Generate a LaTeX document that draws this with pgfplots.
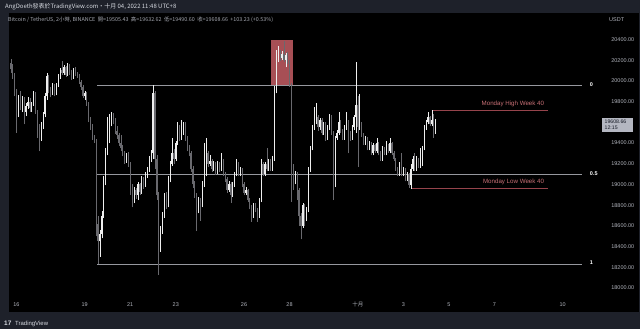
\documentclass[border=0pt]{standalone}
\usepackage{fontspec}
\setmainfont{Liberation Sans}
\newfontfamily\cjk{Noto Sans CJK TC}
\usepackage{pgfplots}
\usepackage{pgfplotstable}
\pgfplotsset{compat=1.18}

\definecolor{framecol}{RGB}{30,33,42}
\definecolor{txtgray}{RGB}{178,181,190}
\definecolor{hdrgray}{RGB}{165,168,177}
\definecolor{hdrwhite}{RGB}{215,218,225}
\definecolor{candleup}{RGB}{238,238,238}
\definecolor{candledn}{RGB}{105,105,110}
\definecolor{fibgray}{RGB}{150,152,158}
\definecolor{boxred}{RGB}{186,88,95}
\definecolor{mondayred}{RGB}{150,68,76}
\definecolor{mondaytxt}{RGB}{200,112,118}
\definecolor{lastbox}{RGB}{180,183,193}
\definecolor{lasttxt}{RGB}{19,23,34}

% BTCUSDT 2h candles, index 4 = 16 Sep 00:00 (UTC+8), 12 candles per day
\pgfplotstableread{
i O H L C
1 20170 20210 20080 20110
2 20110 20160 20020 20050
3 20050 20080 19850 19880
4 19880 19920 19500 19700
5 19700 19860 19650 19800
6 19800 19900 19720 19760
7 19760 19850 19700 19820
8 19820 19840 19580 19700
9 19700 19790 19660 19760
10 19760 19840 19730 19800
11 19800 19830 19700 19740
12 19740 19800 19700 19780
13 19780 19900 19760 19880
14 19880 19890 19680 19700
15 19700 19720 19450 19550
16 19550 19580 19320 19450
17 19450 19600 19420 19580
18 19580 19700 19540 19680
19 19680 19880 19650 19850
20 19850 20080 19820 20050
21 20050 20060 19880 19900
22 19900 19940 19840 19880
23 19880 19980 19860 19950
24 19950 19970 19850 19880
25 19880 19980 19860 19960
26 19960 20070 19940 20050
27 20050 20120 20020 20100
28 20100 20190 20060 20080
29 20080 20150 20060 20130
30 20130 20140 20040 20060
31 20060 20170 20050 20150
32 20150 20160 20060 20080
33 20080 20100 20010 20030
34 20030 20120 20020 20100
35 20100 20130 20050 20070
36 20070 20090 20030 20060
37 20060 20070 19970 19990
38 19990 20010 19910 19940
39 19940 19960 19830 19850
40 19850 19900 19820 19880
41 19880 19890 19760 19780
42 19780 19800 19600 19620
43 19620 19650 19530 19560
44 19560 19580 19430 19450
45 19450 19480 19400 19420
46 19420 19440 18500 18620
47 18620 18700 18232 18450
48 18450 18560 18300 18520
49 18520 18740 18480 18700
50 18700 19080 18680 19030
51 19030 19350 18990 19300
52 19300 19650 19280 19500
53 19500 19680 19400 19600
54 19600 19700 19560 19650
55 19650 19690 19580 19620
56 19620 19640 19490 19520
57 19520 19560 19440 19480
58 19480 19500 19370 19400
59 19400 19480 19320 19350
60 19350 19380 19270 19300
61 19300 19320 19200 19230
62 19230 19300 19210 19280
63 19280 19310 19170 19200
64 19200 19220 18900 18950
65 18950 19000 18780 18850
66 18850 18980 18820 18950
67 18950 18970 18860 18900
68 18900 19020 18850 19000
69 19000 19010 18900 18930
70 18930 19080 18910 19050
71 19050 19070 18960 19000
72 19000 19120 18980 19100
73 19100 19170 19060 19150
74 19150 19270 19120 19250
75 19250 19330 19220 19300
76 19300 19956 19250 19880
77 19880 19900 19150 19250
78 19250 19280 18850 18900
79 18900 18930 18125 18450
80 18450 18600 18350 18550
81 18550 18730 18520 18700
82 18700 18920 18680 18900
83 18900 18930 18760 18800
84 18800 19080 18780 19050
85 19050 19230 19020 19200
86 19200 19450 19180 19300
87 19300 19340 19200 19250
88 19250 19420 19230 19400
89 19400 19600 19380 19550
90 19550 19570 19420 19450
91 19450 19620 19430 19500
92 19500 19600 19480 19580
93 19580 19600 19420 19450
94 19450 19470 19320 19350
95 19350 19380 19270 19300
96 19300 19320 19120 19150
97 19150 19180 18970 19000
98 19000 19030 18870 18900
99 18900 18920 18550 18750
100 18750 18880 18720 18850
101 18850 18870 18650 18800
102 18800 19030 18780 19000
103 19000 19400 18980 19100
104 19100 19450 19080 19300
105 19300 19320 19170 19200
106 19200 19280 19180 19230
107 19230 19250 19120 19150
108 19150 19230 19130 19200
109 19200 19220 19090 19120
110 19120 19230 19100 19200
111 19200 19220 19120 19150
112 19150 19300 19130 19230
113 19230 19250 19080 19100
114 19100 19120 19020 19050
115 19050 19070 18920 18950
116 18950 19030 18930 19000
117 19000 19020 18820 18900
118 18900 19020 18880 19000
119 19000 19120 18980 19100
120 19100 19250 19080 19200
121 19200 19220 19080 19100
122 19100 19170 19080 19150
123 19150 19160 18980 19000
124 19000 19020 18900 18920
125 18920 18980 18900 18950
126 18950 18960 18830 18850
127 18850 18870 18760 18780
128 18780 18800 18640 18700
129 18700 18820 18680 18800
130 18800 18820 18730 18750
131 18750 18770 18640 18700
132 18700 18870 18680 18850
133 18850 19250 18830 19200
134 19200 19220 19080 19100
135 19100 19220 19080 19200
136 19200 19350 19130 19150
137 19150 19250 19130 19230
138 19230 19250 19130 19150
139 19150 19270 19130 19250
140 19250 19950 19230 19900
141 19900 20300 19880 20200
142 20200 20340 20180 20280
143 20280 20300 20190 20220
144 20220 20290 20200 20260
145 20260 20385 20180 20200
146 20200 20270 20130 20250
147 20250 20280 20160 20180
148 20180 20200 19940 19960
149 19960 19980 18830 19150
150 19150 19200 18950 19050
151 19050 19130 19000 19100
152 19100 19120 18850 18950
153 18950 18970 18600 18700
154 18700 18720 18471 18600
155 18600 18820 18580 18800
156 18800 18810 18600 18700
157 18700 18780 18650 18750
158 18750 19170 18730 19150
159 19150 19370 19120 19350
160 19350 19570 19330 19550
161 19550 19750 19530 19600
162 19600 19790 19580 19650
163 19650 19670 19520 19550
164 19550 19640 19530 19620
165 19620 19640 19480 19500
166 19500 19600 19480 19580
167 19580 19600 19420 19450
168 19450 19570 19430 19550
169 19550 19680 19530 19650
170 19650 19670 19480 19500
171 19500 19520 18850 19000
172 19000 19470 18980 19450
173 19450 19530 19430 19500
174 19500 19700 19480 19600
175 19600 19620 19500 19520
176 19520 19540 19430 19450
177 19450 19570 19430 19550
178 19550 19700 19530 19600
179 19600 19620 19300 19500
180 19500 19520 19420 19450
181 19450 19570 19430 19550
182 19550 19670 19530 19650
183 19650 20185 19500 19770
184 19770 19850 19170 19550
185 19550 19870 19530 19580
186 19580 19600 19460 19480
187 19480 19500 19380 19400
188 19400 19470 19380 19450
189 19450 19460 19330 19350
190 19350 19420 19330 19400
191 19400 19410 19280 19300
192 19300 19400 19280 19380
193 19380 19390 19300 19320
194 19320 19450 19300 19400
195 19400 19410 19280 19300
196 19300 19320 19230 19250
197 19250 19370 19230 19350
198 19350 19360 19280 19300
199 19300 19420 19280 19380
200 19380 19390 19300 19320
201 19320 19450 19300 19400
202 19400 19410 19280 19300
203 19300 19320 19230 19250
204 19250 19260 19130 19150
205 19150 19170 19080 19100
206 19100 19220 19080 19200
207 19200 19300 19080 19100
208 19100 19170 19080 19150
209 19150 19160 19030 19050
210 19050 19120 19030 19100
211 19100 19110 18970 18990
212 18990 19200 18960 19150
213 19150 19270 19130 19250
214 19250 19300 19130 19150
215 19150 19270 19130 19250
216 19250 19260 19160 19180
217 19180 19350 19160 19200
218 19200 19370 19180 19350
219 19350 19570 19330 19550
220 19550 19620 19530 19600
221 19600 19700 19580 19650
222 19650 19660 19560 19580
223 19580 19718 19560 19620
224 19620 19680 19450 19505.43
225 19505.43 19632.62 19490.60 19608.66
}\candles
% direction of each candle: close minus open
\pgfplotstablecreatecol[create col/expr={\thisrow{C}-\thisrow{O}}]{D}{\candles}

\begin{document}
\begin{tikzpicture}[x=1bp,y=1bp]
\useasboundingbox (0,0) rectangle (640,329);
% window frame
\fill[framecol] (0,0) rectangle (640,329);

\begin{axis}[
  at={(5,16.3)}, anchor=south west,
  scale only axis, width=630bp, height=299.2bp,
  xmin=0.306, xmax=332.58, ymin=17767.9, ymax=20655.8,
  axis background/.style={fill=black},
  axis line style={draw=none},
  major tick length=0pt,
  scaled x ticks=false, scaled y ticks=false,
  xtick={4,40,64,88,124,148,184,208,232,256,292},
  xticklabels={16,19,21,23,26,28,{\cjk 十月},3,5,7,10},
  xticklabel style={anchor=center, yshift=7.7bp},
  ytick={18000,18200,18400,18600,18800,19000,19200,19400,19800,20000,20200,20400},
  yticklabels={18000.00,18200.00,18400.00,18600.00,18800.00,19000.00,19200.00,19400.00,19800.00,20000.00,20200.00,20400.00},
  yticklabel pos=right,
  yticklabel style={anchor=center, xshift=-16.7bp},
  ticklabel style={font=\fontsize{5.5}{6}\selectfont, text=txtgray},
  clip=false,
]
% highlighted peak zone
\addplot[fill=boxred, draw=none, fill opacity=0.9] coordinates {(138.3,19956) (149.7,19956) (149.7,20395) (138.3,20395)} -- cycle;

% fibonacci retracement levels 0 / 0.5 / 1
\addplot[fibgray, line width=0.8bp] coordinates {(46.7,19956) (302,19956)};
\addplot[fibgray, line width=0.8bp] coordinates {(46.7,19094) (302,19094)};
\addplot[fibgray, line width=0.8bp] coordinates {(46.7,18232) (302,18232)};

% Monday range of week 40
\addplot[mondayred, line width=0.8bp] coordinates {(223,19718) (284.1,19718)};
\addplot[mondayred, line width=0.8bp] coordinates {(212,18960) (284.1,18960)};

% falling candles: wick, then body
\addplot[candledn, line width=0.45bp, quiver={u=0, v=\thisrow{H}-\thisrow{L}},
  restrict expr to domain={\thisrow{D}}{-100000:-0.001}]
  table[x=i, y=L] {\candles};
\addplot[candledn, line width=1.05bp, quiver={u=0, v=\thisrow{C}-\thisrow{O}},
  restrict expr to domain={\thisrow{D}}{-100000:-0.001}]
  table[x=i, y=O] {\candles};
% rising candles: wick, then body
\addplot[candleup, line width=0.45bp, quiver={u=0, v=\thisrow{H}-\thisrow{L}},
  restrict expr to domain={\thisrow{D}}{0:100000}]
  table[x=i, y=L] {\candles};
\addplot[candleup, line width=1.05bp, quiver={u=0, v=\thisrow{C}-\thisrow{O}},
  restrict expr to domain={\thisrow{D}}{0:100000}]
  table[x=i, y=O] {\candles};

% level captions
\node[anchor=west, font=\fontsize{5.5}{6}\selectfont\bfseries, text=white] at (axis cs:304.6,19966) {0};
\node[anchor=west, font=\fontsize{5.5}{6}\selectfont\bfseries, text=white] at (axis cs:304.6,19104) {0.5};
\node[anchor=west, font=\fontsize{5.5}{6}\selectfont\bfseries, text=white] at (axis cs:304.6,18242) {1};
\node[anchor=east, font=\fontsize{6.2}{7}\selectfont, text=mondaytxt] at (axis cs:284.1,19773) {Monday High Week 40};
\node[anchor=east, font=\fontsize{6.2}{7}\selectfont, text=mondaytxt] at (axis cs:284.1,19020) {Monday Low Week 40};
\end{axis}

% last price tag
\fill[lastbox] (602,197.3) rectangle (632.7,211.3);
\node[anchor=west, inner sep=0pt, font=\fontsize{5.2}{6}\selectfont, text=lasttxt] at (604.5,207) {19608.66};
\node[anchor=west, inner sep=0pt, font=\fontsize{5.2}{6}\selectfont, text=lasttxt] at (604.5,200.8) {12:15};

% header
\node[anchor=west, inner sep=0pt, font=\cjk\fontsize{6}{7}\selectfont, text=hdrwhite] at (5,322) {AngDoeth發表於TradingView.com・十月 04, 2022 11:48 UTC+8};
\node[anchor=west, inner sep=0pt, font=\cjk\fontsize{5.4}{6}\selectfont, text=hdrgray] at (8,309) {Bitcoin / TetherUS, 2小時, BINANCE\ \ 開=19505.43\ \ 高=19632.62\ \ 低=19490.60\ \ 收=19608.66\ \ +103.23 (+0.53\%)};
\node[anchor=west, inner sep=0pt, font=\fontsize{5.5}{6}\selectfont, text=txtgray] at (609,309) {USDT};

% footer
\node[anchor=west, inner sep=0pt, font=\fontsize{6.5}{7}\selectfont\bfseries, text=hdrwhite] at (4,5.5) {17};
\node[anchor=west, inner sep=0pt, font=\fontsize{6}{7}\selectfont, text=hdrwhite] at (15,5.5) {TradingView};
\end{tikzpicture}
\end{document}
